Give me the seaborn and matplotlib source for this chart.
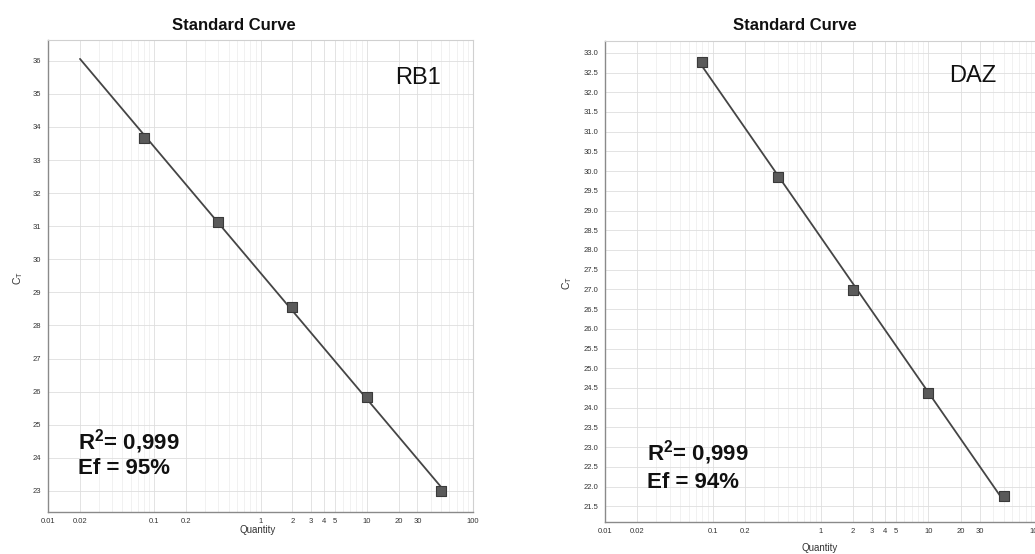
import numpy as np
import pandas as pd
import matplotlib
matplotlib.use("Agg")
import matplotlib.pyplot as plt
import seaborn as sns
from matplotlib.ticker import FixedLocator, FixedFormatter, NullFormatter

# ---------------- data ----------------
quantity = [0.08, 0.4, 2, 10, 50]
ct_rb1 = [33.67, 31.13, 28.56, 25.85, 23.0]
ct_daz = [32.78, 29.85, 26.98, 24.37, 21.75]
fit_range_rb1 = [0.02, 50]
fit_range_daz = [0.08, 50]

x_ticks = [0.01, 0.02, 0.1, 0.2, 1, 2, 3, 4, 5, 10, 20, 30, 100]
x_tick_labels = ["0.01", "0.02", "0.1", "0.2", "1", "2", "3", "4", "5",
                 "10", "20", "30", "100"]
x_minor = [0.03, 0.04, 0.05, 0.06, 0.07, 0.08, 0.09,
           0.3, 0.4, 0.5, 0.6, 0.7, 0.8, 0.9,
           6, 7, 8, 9, 40, 50, 60, 70, 80, 90]
y_ticks_rb1 = [23, 24, 25, 26, 27, 28, 29, 30, 31, 32, 33, 34, 35, 36]
y_ticks_daz = [21.5, 22.0, 22.5, 23.0, 23.5, 24.0, 24.5, 25.0, 25.5, 26.0,
               26.5, 27.0, 27.5, 28.0, 28.5, 29.0, 29.5, 30.0, 30.5, 31.0,
               31.5, 32.0, 32.5, 33.0]

panels = [
    dict(name="RB1", ct=ct_rb1, fit=fit_range_rb1, yticks=y_ticks_rb1,
         yfmt="{:.0f}", r2="0,999", ef="95%"),
    dict(name="DAZ", ct=ct_daz, fit=fit_range_daz, yticks=y_ticks_daz,
         yfmt="{:.1f}", r2="0,999", ef="94%"),
]

# ---------------- style ----------------
sns.set_style("white")
plt.rcParams['font.family'] = ['Liberation Sans', 'DejaVu Sans']
plt.rcParams['mathtext.fontset'] = 'custom'
plt.rcParams['mathtext.rm'] = 'Liberation Sans'
plt.rcParams['mathtext.bf'] = 'Liberation Sans:bold'

W, H = 1035, 554
fig = plt.figure(figsize=(W / 100, H / 100), dpi=100)
fig.patch.set_facecolor("white")

# pixel layout (left, top, right, bottom)
boxes = [(48, 40, 473, 512), (605, 41, 1036, 522)]
ylims = [(22.36, 36.63), (21.1, 33.3)]
title_pos = [(234, 25), (795, 25)]
name_pos = [(418, 78), (973, 76)]
r2_pos = [(78, 442, 469), (647, 453, 482)]
xlabel_pos = [(258, 530), (820, 548)]
ylabel_pos = [(18, 278), (567, 283)]


def fx(px):
    return px / W


def fy(py):
    return 1 - py / H


for i, p in enumerate(panels):
    l, t, r, b = boxes[i]
    ax = fig.add_axes([fx(l), fy(b), (r - l) / W, (b - t) / H])
    ax.set_xscale("log")
    ax.set_xlim(0.01, 100)
    ax.set_ylim(*ylims[i])

    # regression line in log space
    slope, intercept = np.polyfit(np.log10(quantity), p["ct"], 1)
    line_x = np.array(p["fit"], dtype=float)
    line_y = slope * np.log10(line_x) + intercept
    sns.lineplot(x=line_x, y=line_y, ax=ax, color="#454545", lw=1.3,
                 zorder=2)
    df = pd.DataFrame({"Quantity": quantity, "Ct": p["ct"]})
    sns.scatterplot(data=df, x="Quantity", y="Ct", ax=ax, marker="s", s=60,
                    color="#5a5a5a", edgecolor="#3a3a3a", linewidth=0.8,
                    zorder=3)
    ax.set_xlabel("")
    ax.set_ylabel("")

    ax.xaxis.set_major_locator(FixedLocator(x_ticks))
    ax.xaxis.set_major_formatter(FixedFormatter(x_tick_labels))
    ax.xaxis.set_minor_locator(FixedLocator(x_minor))
    ax.xaxis.set_minor_formatter(NullFormatter())
    ax.yaxis.set_major_locator(FixedLocator(p["yticks"]))
    ax.yaxis.set_major_formatter(
        FixedFormatter([p["yfmt"].format(v) for v in p["yticks"]]))
    ax.yaxis.set_minor_formatter(NullFormatter())

    ax.tick_params(axis="both", which="major", labelsize=5.5,
                   labelcolor="#333333", color="#888888", length=2,
                   width=0.6, direction="out")
    ax.tick_params(axis="x", which="major", pad=2.5)
    ax.tick_params(axis="y", which="major", pad=3)
    ax.tick_params(which="minor", length=0)

    ax.grid(which="major", color="#dedede", lw=0.6)
    ax.grid(which="minor", axis="x", color="#ececec", lw=0.5)
    ax.set_axisbelow(True)

    for s in ["left", "bottom"]:
        ax.spines[s].set_color("#8a8a8a")
        ax.spines[s].set_linewidth(1.0)
    for s in ["top", "right"]:
        ax.spines[s].set_color("#d0d0d0")
        ax.spines[s].set_linewidth(0.8)

    # texts
    tx, ty = title_pos[i]
    fig.text(fx(tx), fy(ty), "Standard Curve", ha="center", va="center",
             fontsize=12, fontweight="bold", color="#111111")
    nx, ny = name_pos[i]
    fig.text(fx(nx), fy(ny), p["name"], ha="center", va="center",
             fontsize=17, color="#111111")
    rx, ry1, ry2 = r2_pos[i]
    fig.text(fx(rx), fy(ry1), r"R$^\mathregular{2}$= " + p["r2"], ha="left",
             va="center", fontsize=16, fontweight="bold", color="#111111")
    fig.text(fx(rx), fy(ry2), "Ef = " + p["ef"], ha="left", va="center",
             fontsize=16, fontweight="bold", color="#111111")
    qx, qy = xlabel_pos[i]
    fig.text(fx(qx), fy(qy), "Quantity", ha="center", va="center",
             fontsize=7, color="#333333")
    lx, ly = ylabel_pos[i]
    fig.text(fx(lx), fy(ly), r"C$_\mathregular{T}$", ha="center",
             va="center", rotation=90, fontsize=7.5, color="#333333")

fig.savefig("out.png", dpi=100, facecolor="white")
